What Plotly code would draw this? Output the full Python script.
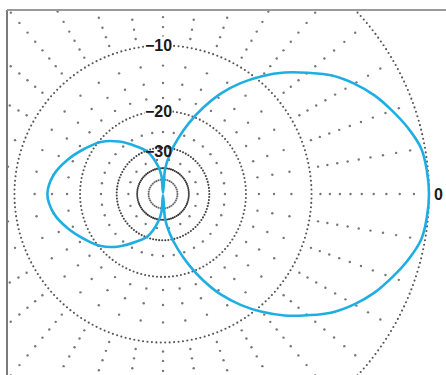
import numpy as np
import plotly.graph_objects as go

# ---- data ----
# azimuth angles (degrees, 0 = right) and relative gain in dB, upper half; pattern is symmetric
angles_deg = [0, 5, 10, 15, 20, 25, 30, 35, 40, 45, 50, 55, 60, 65, 70, 75, 80, 85, 90,
              95, 100, 110, 120, 130, 140, 150, 160, 170, 180]
gain_db = [0, -0.07, -0.25, -0.8, -1.5, -2.25, -3.2, -4.35, -5.9, -7.5, -9.4, -11.6, -14.2,
           -17.6, -21.7, -26.5, -32, -40, -90,
           -46, -38.5, -30.5, -26.9, -23.3, -20.4, -18.5, -16.6, -15.0, -14.3]

ring_db = [0, -10, -20, -30, -40, -50]
ring_labels = ["\u221210", "\u221220", "\u221230"]
ring_label_db = [-10, -20, -30]
outer_label = "0"

# ARRL log-periodic scale: radius shrinks by 0.89 every 2 dB
def db_to_r(db):
    return 0.89 ** (-np.asarray(db, dtype=float) / 2.0)

# full pattern (mirror the upper half)
a_full = list(angles_deg) + [360 - a for a in reversed(angles_deg[:-1])]
g_full = list(gain_db) + list(reversed(gain_db[:-1]))
r_full = db_to_r(g_full)
th = np.radians(a_full)
px = r_full * np.cos(th)
py = r_full * np.sin(th)

fig = go.Figure()

# rings (dotted)
ring_counts = [360, 210, 130, 95, 80, 40]
ring_colors = ["#555", "#555", "#555", "#444", "#333", "#666"]
for db, n, c in zip(ring_db, ring_counts, ring_colors):
    t = np.linspace(0, 2 * np.pi, n, endpoint=False)
    r = db_to_r(db)
    fig.add_trace(go.Scatter(x=r * np.cos(t), y=r * np.sin(t), mode="markers",
                             marker=dict(size=2.1, color=c), hoverinfo="skip",
                             showlegend=False))

# radial lines of sparse dots
ray_levels = [-1, -2, -3, -4, -5, -6, -7, -8, -9, -12.5, -15, -17.5, -25]
xs, ys = [], []
for a in range(0, 360, 10):
    t = np.radians(a)
    for lv in ray_levels:
        r = db_to_r(lv)
        xs.append(r * np.cos(t)); ys.append(r * np.sin(t))
for a in range(0, 360, 20):
    t = np.radians(a)
    r = db_to_r(-35)
    xs.append(r * np.cos(t)); ys.append(r * np.sin(t))
fig.add_trace(go.Scatter(x=xs, y=ys, mode="markers",
                         marker=dict(size=2.4, color="#777"), hoverinfo="skip",
                         showlegend=False))

# pattern
fig.add_trace(go.Scatter(x=px, y=py, mode="lines",
                         line=dict(color="#1FAEE3", width=2.6, shape="spline", smoothing=1.1),
                         hoverinfo="skip", showlegend=False))

# labels
shifts = {-10: 0, -20: 0, -30: -4}
for txt, db in zip(ring_labels, ring_label_db):
    fig.add_annotation(x=0, y=float(db_to_r(db)), text="<b>" + txt + "</b>", showarrow=False,
                       xshift=-5, yshift=shifts[db],
                       font=dict(family="Liberation Sans", size=16, color="#1a1a1a"),
                       bgcolor="white" if db != -30 else "rgba(0,0,0,0)", borderpad=0)
fig.add_annotation(x=float(db_to_r(0)), y=0, text="<b>" + outer_label + "</b>", showarrow=False,
                   xanchor="left", xshift=3,
                   font=dict(family="Liberation Sans", size=16, color="#1a1a1a"))

S = 266.0
fig.update_layout(
    width=446, height=375,
    margin=dict(l=7, r=0, t=10, b=0, autoexpand=False),
    paper_bgcolor="white", plot_bgcolor="white",
    xaxis=dict(range=[-156 / S, 283 / S], visible=False, fixedrange=True),
    yaxis=dict(range=[-181 / S, 184 / S], visible=False, fixedrange=True),
    shapes=[
        dict(type="line", xref="paper", yref="paper", x0=0, x1=0, y0=0, y1=1,
             line=dict(color="#7a7a7a", width=2)),
        dict(type="line", xref="paper", yref="paper", x0=0, x1=1, y0=1, y1=1,
             line=dict(color="#9a9a9a", width=2)),
    ],
)

fig.write_html("out.html", config={"displayModeBar": False, "staticPlot": True},
               post_script="document.body.style.margin='0';document.body.style.overflow='hidden';")
